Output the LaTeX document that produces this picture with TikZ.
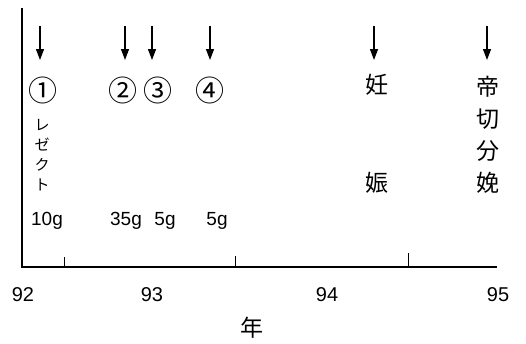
\documentclass[tikz,border=0pt]{standalone}
\usepackage{fontspec}
\setmainfont{Liberation Sans}
\newfontfamily\jp{Noto Sans CJK JP}
\usetikzlibrary{arrows.meta}
\begin{document}
\begin{tikzpicture}[x=1pt,y=-1pt,line width=1.3pt,
    evt/.style={-{Triangle[width=8pt,length=11pt]},line width=1.3pt},
    num/.style={font=\jp\fontsize{29}{29}\selectfont,inner sep=0pt},
    dose/.style={font=\fontsize{19}{19}\selectfont,anchor=base,inner sep=0pt},
    yr/.style={font=\fontsize{20}{20}\selectfont,anchor=base,inner sep=0pt},
    kanji/.style={font=\jp\fontsize{23}{32}\selectfont,align=center,inner sep=0pt}]
        \useasboundingbox (0,0) rectangle (526,343);
        % axes
        \coordinate (ytop) at (22,8);
        \coordinate (xend) at (497,267);
        \draw (ytop) |- (xend);
        \foreach \x/\h in {64/10,235/11,408/14}
            \draw[line width=1pt] (\x,267) -- ++(0,-\h);
        \node[yr](y92) at (23,301){92};
        \node[yr](y93) at (152,301){93};
        \node[yr](y94) at (327,301){94};
        \node[yr](y95) at (498,301){95};
        \node[font=\jp\fontsize{23}{23}\selectfont,inner sep=0pt](nen) at (252,328){年};
        % events
        \node[num](c1) at (43,90){①};
        \node[num](c2) at (123,90){②};
        \node[num](c3) at (158,90){③};
        \node[num](c4) at (210,90){④};
        \node[font=\jp\fontsize{15}{20}\selectfont,align=center,inner sep=0pt](rej) at (42,155){レ\\ゼ\\ク\\ト};
        \node[kanji](nin) at (377,85){妊};
        \node[kanji](shin) at (377,183){娠};
        \node[kanji](csec) at (488,135){帝\\切\\分\\娩};
        \node[dose](d1) at (47,225){10g};
        \node[dose](d2) at (126,225){35g};
        \node[dose](d3) at (165,225){5g};
        \node[dose](d4) at (217,225){5g};
        % arrows
        \foreach \n/\x in {a1/40,a2/125,a3/152,a4/210,a5/374,a6/487}
            \coordinate (\n) at (\x,26);
        \draw[evt] (a1) -- (a1 |- 0,60);
        \draw[evt] (a2) -- (a2 |- 0,60);
        \draw[evt] (a3) -- (a3 |- 0,60);
        \draw[evt] (a4) -- (a4 |- 0,60);
        \draw[evt] (a5) -- (a5 |- 0,60);
        \draw[evt] (a6) -- (a6 |- 0,60);
    \end{tikzpicture}
\end{document}
